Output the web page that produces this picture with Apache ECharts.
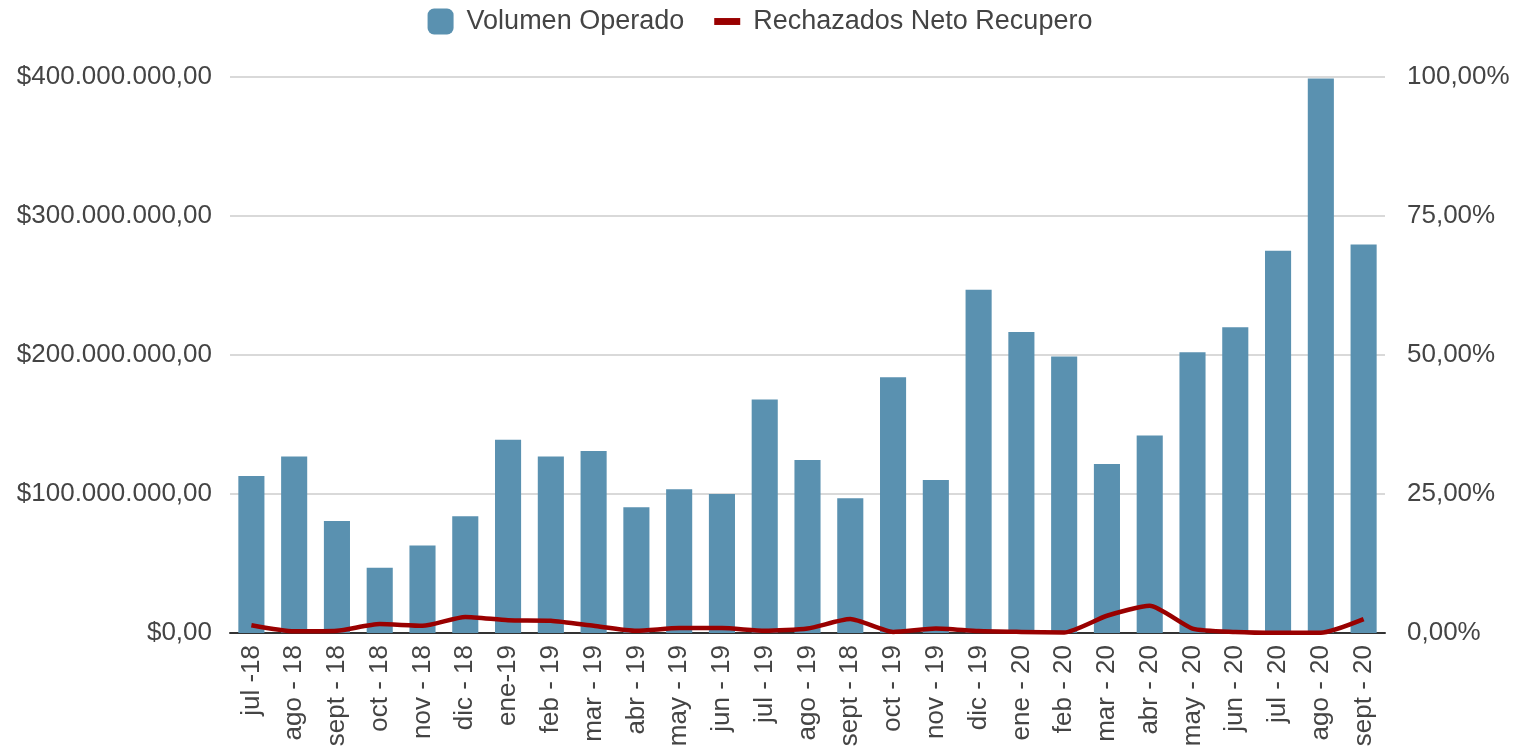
<!DOCTYPE html>
<html>
<head>
<meta charset="utf-8">
<script src="https://cdn.jsdelivr.net/npm/echarts@6/dist/echarts.min.js"></script>
<style>
  html, body { margin: 0; padding: 0; background: #fff; }
  #chart { width: 1520px; height: 756px; }
</style>
</head>
<body>
<div id="chart"></div>
<script>
// meses (tal cual aparecen en el original, incluido "sept - 18" repetido)
const meses = ['jul -18', 'ago - 18', 'sept - 18', 'oct - 18', 'nov - 18', 'dic - 18', 'ene-19',
  'feb - 19', 'mar - 19', 'abr - 19', 'may - 19', 'jun - 19', 'jul - 19', 'ago - 19', 'sept - 18',
  'oct - 19', 'nov - 19', 'dic - 19', 'ene - 20', 'feb - 20', 'mar - 20', 'abr - 20', 'may - 20',
  'jun - 20', 'jul - 20', 'ago - 20', 'sept - 20'];

// Volumen Operado ($)
const volumenOperado = [113e6, 127e6, 80.5e6, 47e6, 63e6, 84e6, 139e6,
  127e6, 131e6, 90.5e6, 103.5e6, 100e6, 168e6, 124.5e6, 97e6,
  184e6, 110e6, 247e6, 216.5e6, 199e6, 121.5e6, 142e6, 202e6,
  220e6, 275e6, 399e6, 279.5e6];

// Rechazados Neto Recupero (%)
const rechazados = [1.4, 0.3, 0.4, 1.6, 1.3, 2.9, 2.3,
  2.2, 1.3, 0.4, 0.9, 0.9, 0.4, 0.8, 2.5,
  0.2, 0.8, 0.35, 0.2, 0.1, 3.1, 4.9, 0.8,
  0.2, 0.05, 0.05, 2.5];

function fmtPesos(v) {
  let s = String(Math.round(v)).replace(/\B(?=(\d{3})+(?!\d))/g, '.');
  return '$' + s + ',00';
}
function fmtPct(v) {
  return v.toFixed(2).replace('.', ',') + '%';
}

const chart = echarts.init(document.getElementById('chart'));
const txt = '#444444';
const option = {
  animation: false,
  textStyle: { fontFamily: 'Liberation Sans, Arial, sans-serif' },
  legend: {
    top: 3,
    left: 'center',
    itemGap: 30,
    itemWidth: 26,
    itemHeight: 26,
    textStyle: { fontSize: 27, color: txt, padding: [0, 0, 0, 8] },
    data: [
      { name: 'Volumen Operado', icon: 'roundRect' },
      { name: 'Rechazados Neto Recupero', icon: 'path://M0,0 L30,0 L30,8 L0,8 Z', itemStyle: { color: '#990000' } }
    ]
  },
  grid: { left: 230, right: 135, top: 77, bottom: 123 },
  xAxis: {
    type: 'category',
    data: meses,
    axisTick: { show: false },
    axisLine: { lineStyle: { color: '#333', width: 2 } },
    axisLabel: { rotate: 90, fontSize: 26, color: txt, margin: 12, interval: 0 }
  },
  yAxis: [
    {
      type: 'value', min: 0, max: 400e6, interval: 100e6,
      axisLabel: { formatter: fmtPesos, fontSize: 26, color: txt, margin: 18 },
      splitLine: { lineStyle: { color: '#cccccc', width: 1.5 } },
      axisLine: { show: false }, axisTick: { show: false }
    },
    {
      type: 'value', min: 0, max: 100, interval: 25,
      axisLabel: { formatter: fmtPct, fontSize: 26, color: txt, margin: 22 },
      splitLine: { show: false },
      axisLine: { show: false }, axisTick: { show: false }
    }
  ],
  series: [
    {
      name: 'Volumen Operado',
      type: 'bar',
      data: volumenOperado,
      barCategoryGap: '39%',
      itemStyle: { color: '#5a91b0' }
    },
    {
      name: 'Rechazados Neto Recupero',
      type: 'line',
      yAxisIndex: 1,
      data: rechazados,
      symbol: 'none',
      smooth: 0.2,
      lineStyle: { color: '#990000', width: 4.5 },
      itemStyle: { color: '#990000' }
    }
  ]
};
chart.setOption(option);
</script>
</body>
</html>
